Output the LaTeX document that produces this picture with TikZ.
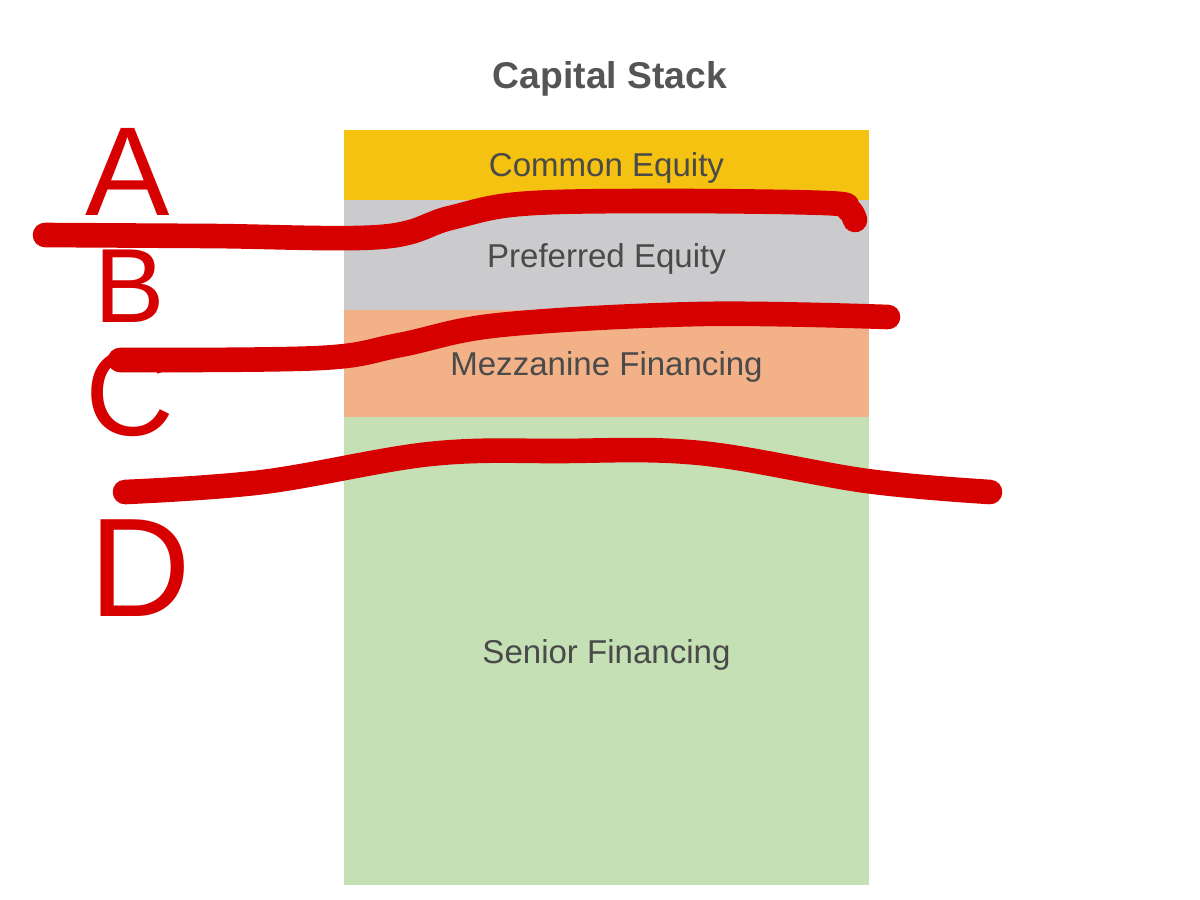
\documentclass[tikz,border=0pt]{standalone}
\usepackage{fontspec}
\setmainfont{Liberation Sans}
\usetikzlibrary{positioning}

\definecolor{eqyellow}{HTML}{F5C211}
\definecolor{prefgray}{HTML}{CBCBCD}
\definecolor{mezzorange}{HTML}{F2B187}
\definecolor{seniorgreen}{HTML}{C5E0B5}
\definecolor{labelgray}{HTML}{4A4A4A}
\definecolor{titlegray}{HTML}{555555}
\definecolor{penred}{HTML}{D60000}

\begin{document}
\begin{tikzpicture}[x=0.01cm, y=-0.01cm,
    layer/.style={minimum width=5.25cm, inner sep=0pt, outer sep=0pt, text=labelgray,
      text depth=0pt, font=\fontsize{9.4}{11}\selectfont},
    scribble/.style={draw=penred, line width=7pt, line cap=round, line join=round},
    letter/.style={text=penred, inner sep=0pt, anchor=base}]
    % Frame
    \fill[white] (0,0) rectangle (1200,900);
    \useasboundingbox (0,0) rectangle (1200,900);

    % Title
    \node[text=titlegray, anchor=base, font=\fontsize{10.6}{12}\selectfont\bfseries]
      (title) at (610,88) {Capital Stack};

    % Stack of layers
    \node[layer, fill=eqyellow, minimum height=0.70cm] (common) at (606.5,165) {Common Equity};
    \node[layer, fill=prefgray, minimum height=1.10cm, below=0pt of common] (preferred) {Preferred Equity};
    \node[layer, fill=mezzorange, minimum height=1.07cm, below=0pt of preferred] (mezz) {Mezzanine Financing};
    \node[layer, fill=seniorgreen, minimum height=4.68cm, below=0pt of mezz] (senior) {Senior Financing};

    % Letters
    \node[letter, font=\fontsize{36}{36}\selectfont] (A) at (128,215) {A};
    \node[letter, font=\fontsize{30}{30}\selectfont] (B) at (130,322) {B};
    \node[letter, font=\fontsize{35}{35}\selectfont] (C) at (130,435) {C};
    \node[letter, font=\fontsize{40}{40}\selectfont] (D) at (140,616) {D};

    % Hand drawn dividers
    \draw[scribble] plot[smooth, tension=0.6] coordinates
      {(45,235) (210,236) (380,237) (450,218) (520,204) (650,201) (825,203) (848,209) (855,220)};
    \draw[scribble] plot[smooth, tension=0.6] coordinates
      {(120,360) (320,358) (400,345) (500,325) (700,314) (888,317)};
    \draw[scribble] plot[smooth, tension=0.6] coordinates
      {(125,492) (263,482) (430,454) (560,451) (700,453) (867,481) (990,492)};
\end{tikzpicture}
\end{document}
